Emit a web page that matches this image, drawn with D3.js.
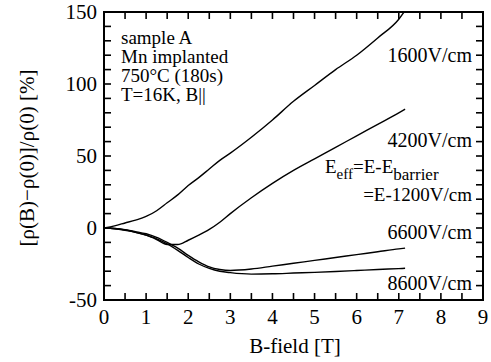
<!DOCTYPE html>
<html>
<head>
<meta charset="utf-8">
<script src="https://cdn.jsdelivr.net/npm/d3@7"></script>
<style>
  html, body { margin: 0; padding: 0; background: #fff; }
  svg text { font-family: 'Liberation Serif', 'Times New Roman', serif; fill: #000; }
</style>
</head>
<body>
<div id="chart"></div>
<script>
// B-field grid [T] shared by all traces
const bField = [0, 0.25, 0.5, 0.75, 1.0, 1.25, 1.5, 1.75, 2.0, 2.25, 2.5, 2.75, 3.0, 3.5, 4.0, 4.5, 5.0, 5.5, 6.0, 6.5, 7.0, 7.15];

// magnetoresistance [%] per applied field
const mr1600 = [0, 1.5, 3.5, 5.5, 8, 12, 17.5, 23, 29.5, 35, 41, 47, 52, 63, 75, 88, 99, 110, 120, 132, 145, 151];
const mr4200 = [0, -0.3, -1.3, -3, -5, -8, -11.5, -11.5, -8.5, -5, -1, 4, 10, 21, 31, 40, 48, 56, 64, 72, 80, 82.5];
const mr6600 = [0, -0.3, -1.2, -2.5, -4, -6.5, -10, -14, -19, -23.5, -27, -28.8, -29.5, -28.5, -26.5, -24.5, -22.5, -20.5, -18.5, -16.5, -14.5, -14];
const mr8600 = [0, -0.5, -1.6, -3, -5, -7.5, -11, -15.5, -20.5, -25, -28, -30, -31, -32, -31.8, -31.3, -30.8, -30.2, -29.5, -28.8, -28.2, -28];

const series = [mr1600, mr4200, mr6600, mr8600];

const xTickLabels = [0, 1, 2, 3, 4, 5, 6, 7, 8, 9];
const yTickLabels = [-50, 0, 50, 100, 150];

const fieldLabels = ['1600V/cm', '4200V/cm', '6600V/cm', '8600V/cm'];
const sampleInfo = ['sample A', 'Mn implanted', '750°C (180s)', 'T=16K, B||'];

const W = 491, H = 362;
const m = { top: 12, right: 8, bottom: 62, left: 104 };

const svg = d3.select('#chart')
  .append('svg')
  .attr('width', W)
  .attr('height', H);

const x = d3.scaleLinear().domain([0, 9]).range([m.left, W - m.right]);
const y = d3.scaleLinear().domain([-50, 150]).range([H - m.bottom, m.top]);

// clip for traces
svg.append('clipPath').attr('id', 'plot-clip')
  .append('rect')
  .attr('x', x(0)).attr('y', y(150))
  .attr('width', x(9) - x(0)).attr('height', y(-50) - y(150));

const tickLen = 7;
const xTicks = d3.range(0, 9.01, 0.5);
const yTicks = d3.range(-50, 150.01, 10);

// ticks on all four sides, pointing inward
const axes = svg.append('g').attr('stroke', '#000').attr('stroke-width', 1.6);
axes.selectAll('line.xb').data(xTicks).join('line')
  .attr('x1', (d) => x(d)).attr('x2', (d) => x(d))
  .attr('y1', y(-50)).attr('y2', y(-50) - tickLen);
axes.selectAll('line.xt').data(xTicks).join('line')
  .attr('x1', (d) => x(d)).attr('x2', (d) => x(d))
  .attr('y1', y(150)).attr('y2', y(150) + tickLen);
axes.selectAll('line.yl').data(yTicks).join('line')
  .attr('y1', (d) => y(d)).attr('y2', (d) => y(d))
  .attr('x1', x(0)).attr('x2', x(0) + tickLen);
axes.selectAll('line.yr').data(yTicks).join('line')
  .attr('y1', (d) => y(d)).attr('y2', (d) => y(d))
  .attr('x1', x(9)).attr('x2', x(9) - tickLen);

// traces
const line = d3.line()
  .x((d) => x(d[0]))
  .y((d) => y(d[1]))
  .curve(d3.curveMonotoneX);

svg.append('g')
  .attr('clip-path', 'url(#plot-clip)')
  .selectAll('path')
  .data(series)
  .join('path')
  .attr('d', (s) => line(bField.map((b, i) => [b, s[i]])))
  .attr('fill', 'none')
  .attr('stroke', '#000')
  .attr('stroke-width', 1.4);

// frame
svg.append('rect')
  .attr('x', x(0)).attr('y', y(150))
  .attr('width', x(9) - x(0)).attr('height', y(-50) - y(150))
  .attr('fill', 'none')
  .attr('stroke', '#000')
  .attr('stroke-width', 2);

// tick labels
svg.selectAll('text.xl').data(xTickLabels).join('text')
  .attr('class', 'xl')
  .attr('x', (d) => x(d))
  .attr('y', 324)
  .attr('text-anchor', 'middle')
  .attr('font-size', '21px')
  .text((d) => d);

svg.selectAll('text.yl').data(yTickLabels).join('text')
  .attr('class', 'yl')
  .attr('x', 97)
  .attr('y', (d) => y(d) + 7)
  .attr('text-anchor', 'end')
  .attr('font-size', '21px')
  .text((d) => d);

// axis titles
svg.append('text')
  .attr('x', 295)
  .attr('y', 353)
  .attr('text-anchor', 'middle')
  .attr('font-size', '21px')
  .text('B-field [T]');

svg.append('text')
  .attr('transform', 'translate(34,158) rotate(-90)')
  .attr('text-anchor', 'middle')
  .attr('font-size', '21px')
  .text('[ρ(B)−ρ(0)]/ρ(0) [%]');

// sample info
svg.selectAll('text.info').data(sampleInfo).join('text')
  .attr('class', 'info')
  .attr('x', 121)
  .attr('y', (d, i) => 44 + i * 19)
  .attr('font-size', '19px')
  .text((d) => d);

// field labels at right
const labelY = [62, 147, 239, 290];
svg.selectAll('text.fl').data(fieldLabels).join('text')
  .attr('class', 'fl')
  .attr('x', 472)
  .attr('y', (d, i) => labelY[i])
  .attr('text-anchor', 'end')
  .attr('font-size', '20px')
  .text((d) => d);

// E_eff annotation
const eff = svg.append('text').attr('x', 325).attr('y', 173).attr('font-size', '19px');
eff.append('tspan').text('E');
eff.append('tspan').attr('dy', 6).attr('font-size', '15px').text('eff');
eff.append('tspan').attr('dy', -6).text('=E-E');
eff.append('tspan').attr('dy', 7).attr('font-size', '17px').text('barrier');

svg.append('text')
  .attr('x', 472)
  .attr('y', 201)
  .attr('text-anchor', 'end')
  .attr('font-size', '19px')
  .text('=E-1200V/cm');
</script>
</body>
</html>
